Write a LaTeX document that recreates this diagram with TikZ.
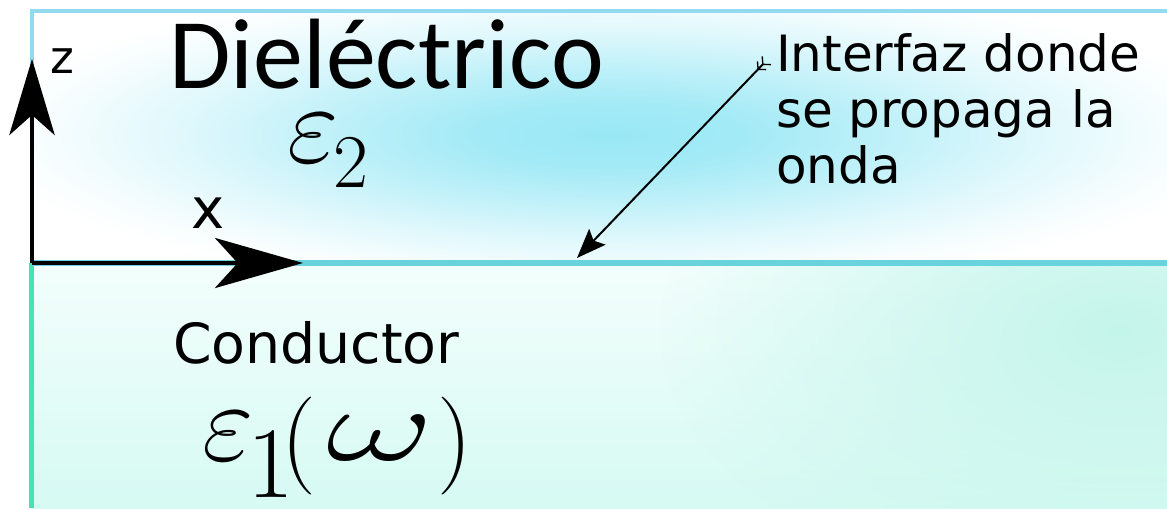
\RequirePackage{fix-cm}
\documentclass[tikz,border=0pt]{standalone}
\usepackage{fontspec}
\setmainfont{DejaVu Sans}
\newfontfamily\calib{Carlito}
\usetikzlibrary{arrows.meta,fadings}
\definecolor{topborder}{HTML}{93DAF0}
\definecolor{ifaceline}{HTML}{68D2DD}
\definecolor{condborder}{HTML}{45E2B3}
\definecolor{blobc}{HTML}{9AE8F5}
\definecolor{condtop}{HTML}{F3FEFC}
\definecolor{condbot}{HTML}{D6FAF3}
\definecolor{condblob}{HTML}{C4F5EB}
\pgfdeclareradialshading{blob}{\pgfpoint{0bp}{0bp}}{color(0bp)=(blobc); color(5bp)=(blobc!92!white); color(11bp)=(blobc!62!white); color(17bp)=(blobc!30!white); color(22bp)=(blobc!8!white); color(25bp)=(white); color(50bp)=(white)}
\tikzfading[name=softfade, inner color=transparent!0, outer color=transparent!100]
\tikzset{
  axisline/.style={line width=3.4pt, black},
  pointer/.style={line width=1.5pt, black},
  lbl/.style={inner sep=0pt, outer sep=0pt, anchor=base west},
}
\newcommand{\pxk}[1]{\kern #1\dimexpr 0.75pt\relax}
\begin{document}
\begin{tikzpicture}[x=0.75pt, y=-0.75pt]
\useasboundingbox (0,0) rectangle (1167,508);
% dielectric background
\fill[white] (32,11) rectangle (1167,263);
\begin{scope}
  \clip (32,11) rectangle (1167,263);
  \shade[shading=blob] (610,135) ellipse [x radius=640, y radius=155];
\end{scope}
% conductor background
\shade[top color=condtop, bottom color=condbot] (32,263) rectangle (1167,508);
\begin{scope}
  \clip (32,263) rectangle (1167,508);
  \fill[condblob, path fading=softfade] (1120,330) ellipse [x radius=460, y radius=270];
\end{scope}
% borders
\draw[topborder, line width=3pt] (1167,11) -- (31.5,11) -- (31.5,263);
\draw[condborder, line width=3.8pt] (31.5,263) -- (31.5,508);
\draw[ifaceline, line width=3.8pt] (32,263) -- (1167,263);
% axes
\coordinate (o) at (32,263);
\coordinate (zt) at (32,59);
\coordinate (xt) at (303,263);
\draw[axisline, -{Stealth[length=57pt, width=34pt, inset=15pt]}] (o) -- (zt);
\draw[axisline, -{Stealth[length=66pt, width=37.5pt, inset=17pt]}] (o) -- (xt);
\node[lbl, font=\fontsize{34}{36}\selectfont] (zl) at (50,73) {z};
\node[lbl, font=\fontsize{42}{44}\selectfont] (xl) at (191,228) {x};
% labels
\node[lbl, font=\calib\fontsize{75}{80}\selectfont] (diel) at (169,88) {Dieléctrico};
\node[lbl] (eps2) at (287,162) {\fontsize{84}{90}\selectfont$\varepsilon$\pxk{-5}\raisebox{-18.75pt}{\fontsize{57}{60}\selectfont$2$}};
\node[lbl, font=\fontsize{41.5}{44}\selectfont] (cond) at (173,363) {Conductor};
\node[lbl] (eps1) at (202,460) {\fontsize{84}{90}\selectfont$\varepsilon$\pxk{-6}\raisebox{-27.75pt}{\fontsize{76}{80}\selectfont$1$}\pxk{-12}\raisebox{-7.5pt}{\fontsize{73.5}{78}\selectfont$($}\pxk{10}\scalebox{1.6}[1]{\fontsize{78}{80}\selectfont$\omega$}\pxk{4}\raisebox{-7.5pt}{\fontsize{73.5}{78}\selectfont$)$}};
\node[lbl, align=left, font=\fontsize{37.5}{42}\selectfont] (iface) at (776,183) {Interfaz donde\\se propaga la\\onda};
% pointer
\coordinate (ps) at (767,60);
\coordinate (pe) at (577,258);
\draw[pointer, {Straight Barb[reversed, length=4pt, width=9pt, line width=1pt] Straight Barb[reversed, length=4pt, width=9pt, line width=1pt]}-{Stealth[length=22pt, width=17pt, inset=4pt]}] (ps) -- (pe);
\end{tikzpicture}
\end{document}
